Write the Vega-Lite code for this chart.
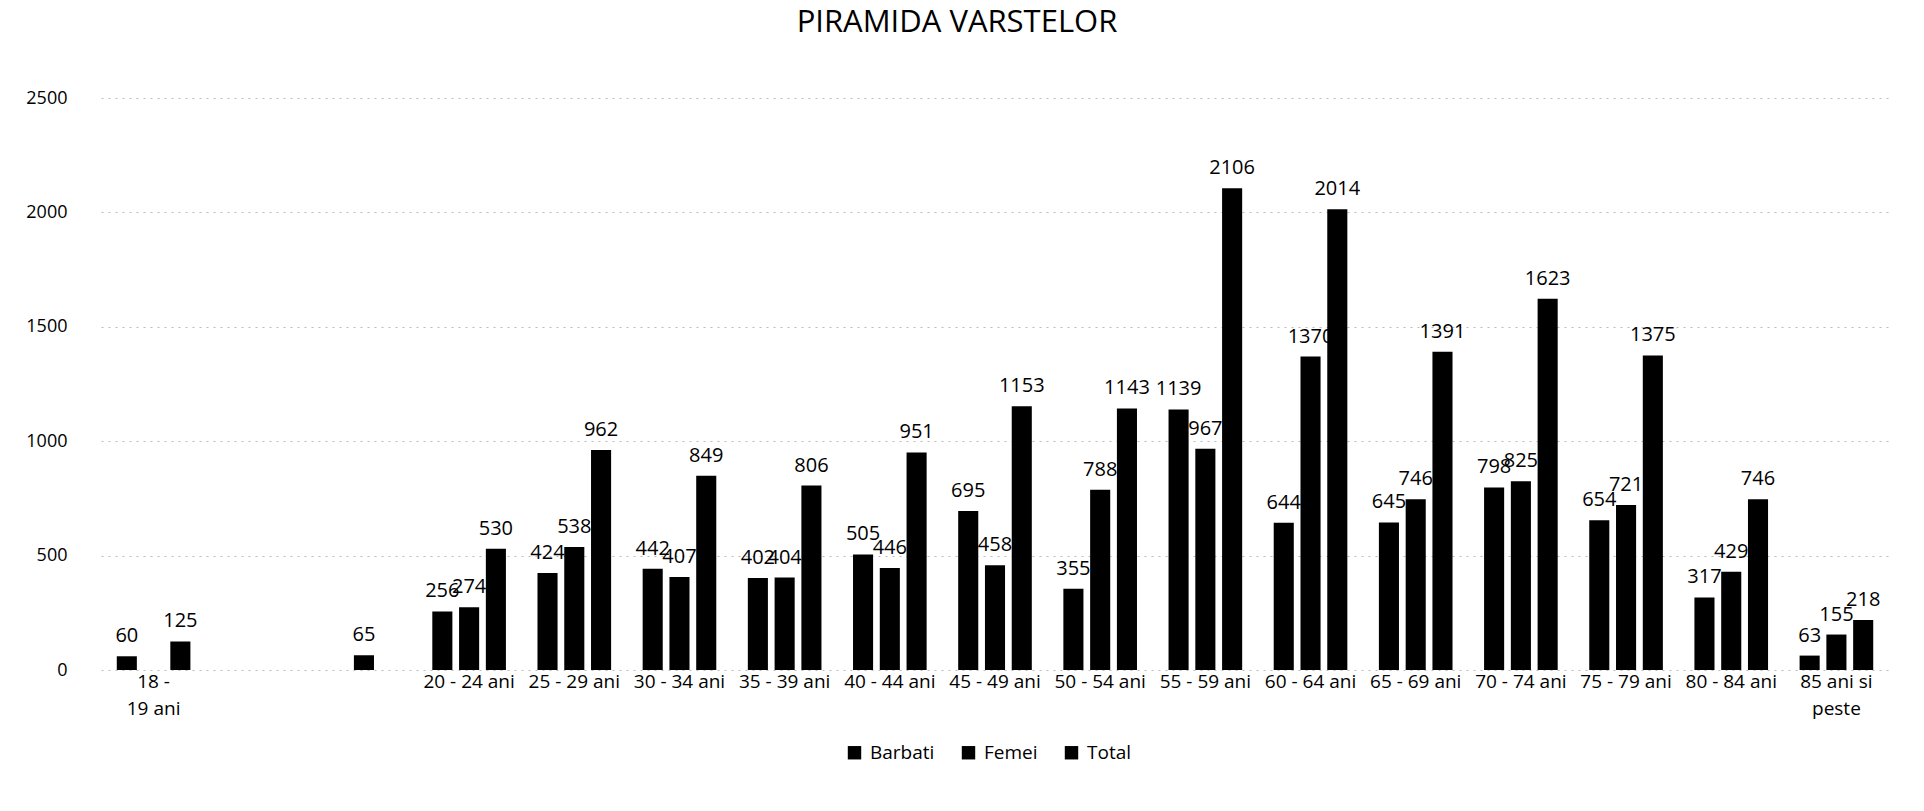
{
  "$schema": "https://vega.github.io/schema/vega-lite/v6.json",
  "autosize": {"type": "none"},
  "padding": {"left": 101, "top": 98, "right": 35, "bottom": 141},
  "width": 1788,
  "height": 572,
  "background": "white",
  "config": {
    "font": "Open Sans",
    "view": {"stroke": null}
  },
  "title": {
    "text": "PIRAMIDA VARSTELOR",
    "fontSize": 31,
    "fontWeight": "normal",
    "color": "#000",
    "offset": 50,
    "dx": -38
  },
  "data": {
    "values": [
      {"grupa": "18 - 19 ani", "serie": "Barbati", "valoare": 60},
      {"grupa": "18 - 19 ani", "serie": "Total", "valoare": 125},
      {"grupa": "gol2", "serie": "Femei", "valoare": 65},
      {"grupa": "20 - 24 ani", "serie": "Barbati", "valoare": 256},
      {"grupa": "20 - 24 ani", "serie": "Femei", "valoare": 274},
      {"grupa": "20 - 24 ani", "serie": "Total", "valoare": 530},
      {"grupa": "25 - 29 ani", "serie": "Barbati", "valoare": 424},
      {"grupa": "25 - 29 ani", "serie": "Femei", "valoare": 538},
      {"grupa": "25 - 29 ani", "serie": "Total", "valoare": 962},
      {"grupa": "30 - 34 ani", "serie": "Barbati", "valoare": 442},
      {"grupa": "30 - 34 ani", "serie": "Femei", "valoare": 407},
      {"grupa": "30 - 34 ani", "serie": "Total", "valoare": 849},
      {"grupa": "35 - 39 ani", "serie": "Barbati", "valoare": 402},
      {"grupa": "35 - 39 ani", "serie": "Femei", "valoare": 404},
      {"grupa": "35 - 39 ani", "serie": "Total", "valoare": 806},
      {"grupa": "40 - 44 ani", "serie": "Barbati", "valoare": 505},
      {"grupa": "40 - 44 ani", "serie": "Femei", "valoare": 446},
      {"grupa": "40 - 44 ani", "serie": "Total", "valoare": 951},
      {"grupa": "45 - 49 ani", "serie": "Barbati", "valoare": 695},
      {"grupa": "45 - 49 ani", "serie": "Femei", "valoare": 458},
      {"grupa": "45 - 49 ani", "serie": "Total", "valoare": 1153},
      {"grupa": "50 - 54 ani", "serie": "Barbati", "valoare": 355},
      {"grupa": "50 - 54 ani", "serie": "Femei", "valoare": 788},
      {"grupa": "50 - 54 ani", "serie": "Total", "valoare": 1143},
      {"grupa": "55 - 59 ani", "serie": "Barbati", "valoare": 1139},
      {"grupa": "55 - 59 ani", "serie": "Femei", "valoare": 967},
      {"grupa": "55 - 59 ani", "serie": "Total", "valoare": 2106},
      {"grupa": "60 - 64 ani", "serie": "Barbati", "valoare": 644},
      {"grupa": "60 - 64 ani", "serie": "Femei", "valoare": 1370},
      {"grupa": "60 - 64 ani", "serie": "Total", "valoare": 2014},
      {"grupa": "65 - 69 ani", "serie": "Barbati", "valoare": 645},
      {"grupa": "65 - 69 ani", "serie": "Femei", "valoare": 746},
      {"grupa": "65 - 69 ani", "serie": "Total", "valoare": 1391},
      {"grupa": "70 - 74 ani", "serie": "Barbati", "valoare": 798},
      {"grupa": "70 - 74 ani", "serie": "Femei", "valoare": 825},
      {"grupa": "70 - 74 ani", "serie": "Total", "valoare": 1623},
      {"grupa": "75 - 79 ani", "serie": "Barbati", "valoare": 654},
      {"grupa": "75 - 79 ani", "serie": "Femei", "valoare": 721},
      {"grupa": "75 - 79 ani", "serie": "Total", "valoare": 1375},
      {"grupa": "80 - 84 ani", "serie": "Barbati", "valoare": 317},
      {"grupa": "80 - 84 ani", "serie": "Femei", "valoare": 429},
      {"grupa": "80 - 84 ani", "serie": "Total", "valoare": 746},
      {"grupa": "85 ani si peste", "serie": "Barbati", "valoare": 63},
      {"grupa": "85 ani si peste", "serie": "Femei", "valoare": 155},
      {"grupa": "85 ani si peste", "serie": "Total", "valoare": 218}
    ]
  },
  "encoding": {
    "x": {
      "field": "grupa",
      "type": "nominal",
      "sort": null,
      "title": null,
      "scale": {
        "domain": ["18 - 19 ani", "gol1", "gol2", "20 - 24 ani", "25 - 29 ani", "30 - 34 ani", "35 - 39 ani", "40 - 44 ani", "45 - 49 ani", "50 - 54 ani", "55 - 59 ani", "60 - 64 ani", "65 - 69 ani", "70 - 74 ani", "75 - 79 ani", "80 - 84 ani", "85 ani si peste"],
        "paddingInner": 0.3,
        "paddingOuter": 0.15
      },
      "axis": {
        "labelAngle": 0,
        "domain": false,
        "ticks": false,
        "labelFontSize": 19,
        "labelColor": "#000",
        "labelPadding": 2,
        "labelLineHeight": 27,
        "labelExpr": "datum.value == 'gol1' || datum.value == 'gol2' ? '' : datum.value == '18 - 19 ani' ? ['\u2003\u2003\u200318 -', '19 ani'] : datum.value == '85 ani si peste' ? ['85 ani si', 'peste'] : datum.value"
      }
    },
    "xOffset": {
      "field": "serie",
      "type": "nominal",
      "scale": {"domain": ["Barbati", "Femei", "Total"], "paddingInner": 0.25}
    },
    "y": {
      "field": "valoare",
      "type": "quantitative",
      "title": null,
      "scale": {"domain": [0, 2500], "nice": false},
      "axis": {
        "values": [0, 500, 1000, 1500, 2000, 2500],
        "format": "d",
        "domain": false,
        "ticks": false,
        "labelFontSize": 18,
        "labelColor": "#000",
        "labelPadding": 34,
        "gridColor": "#bbbbbb",
        "gridDash": [2, 5],
        "gridWidth": 1
      }
    }
  },
  "layer": [
    {
      "mark": {"type": "bar"},
      "encoding": {
        "color": {
          "field": "serie",
          "type": "nominal",
          "scale": {"domain": ["Barbati", "Femei", "Total"], "range": ["#000000", "#000000", "#000000"]},
          "legend": {
            "title": null,
            "orient": "none",
            "direction": "horizontal",
            "legendX": 744,
            "legendY": 645,
            "symbolType": "square",
            "symbolSize": 180,
            "symbolStrokeWidth": 0,
            "labelFontSize": 19,
            "labelColor": "#000",
            "columnPadding": 24,
            "labelOffset": 6
          }
        }
      }
    },
    {
      "mark": {"type": "text", "baseline": "bottom", "dy": -10, "fontSize": 20, "color": "#000"},
      "encoding": {
        "text": {"field": "valoare", "type": "quantitative"}
      }
    }
  ]
}
